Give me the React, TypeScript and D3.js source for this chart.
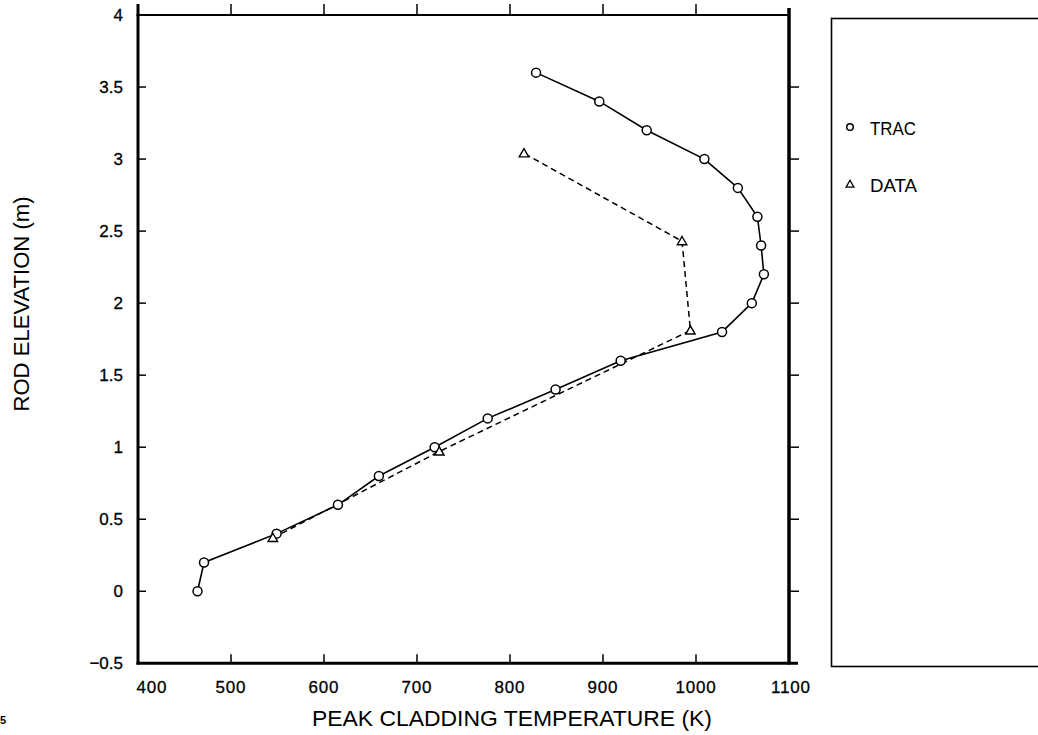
import React from "react";
import * as d3 from "d3";

const tracTemp = [464, 471, 549, 615, 659, 719, 776, 849, 919, 1028, 1060, 1073, 1070, 1066, 1045, 1009, 947, 896, 828];
const tracElev = [0, 0.2, 0.4, 0.6, 0.8, 1.0, 1.2, 1.4, 1.6, 1.8, 2.0, 2.2, 2.4, 2.6, 2.8, 3.0, 3.2, 3.4, 3.6];
const dataTemp = [545, 724, 994, 985, 815];
const dataElev = [0.37, 0.97, 1.81, 2.43, 3.04];
const xTicks = [400, 500, 600, 700, 800, 900, 1000, 1100];
const yTicks = [-0.5, 0, 0.5, 1, 1.5, 2, 2.5, 3, 3.5, 4];
const legendItems = ["TRAC", "DATA"];

const W = 1038, H = 735;
const x = d3.scaleLinear().domain([400, 1100]).range([138, 789]);
const y = d3.scaleLinear().domain([-0.5, 4]).range([663.3, 15]);
const fontFamily = "'Liberation Sans', Arial, Helvetica, sans-serif";

function triPath(cx: number, cy: number, s = 5.5) {
  const sym = d3.symbol().type(d3.symbolTriangle).size(s * s * 1.3);
  return { d: sym() as string, transform: `translate(${cx},${cy + 0.8})` };
}

export default function App() {
  const lineGen = d3.line<[number, number]>().x(d => x(d[0])).y(d => y(d[1]));
  const trac: [number, number][] = tracTemp.map((t, i) => [t, tracElev[i]]);
  const data: [number, number][] = dataTemp.map((t, i) => [t, dataElev[i]]);
  const fmt = (v: number) => (v < 0 ? "\u22120.5" : String(v));
  return (
    <svg width={W} height={H} style={{ position: "absolute", left: 0, top: 0, background: "#fff" }} fontFamily={fontFamily}>
      <rect x={0} y={0} width={W} height={H} fill="#fff" />
      {/* axes frame */}
      <line x1={x(400)} x2={x(400)} y1={4} y2={664.5} stroke="#000" strokeWidth={3} />
      <line x1={136.5} x2={798} y1={y(-0.5)} y2={y(-0.5)} stroke="#000" strokeWidth={3} />
      <line x1={x(1100)} x2={x(1100)} y1={8} y2={664.5} stroke="#000" strokeWidth={3.5} />
      <line x1={136.5} x2={790} y1={y(4)} y2={y(4)} stroke="#000" strokeWidth={2} />
      {/* ticks */}
      {xTicks.slice(1, -1).map(t => (
        <g key={"xt" + t}>
          <line x1={x(t)} x2={x(t)} y1={y(4)} y2={y(4) - 11} stroke="#000" strokeWidth={1.5} />
          <line x1={x(t)} x2={x(t)} y1={y(-0.5)} y2={y(-0.5) - 9} stroke="#000" strokeWidth={1.5} />
        </g>
      ))}
      {yTicks.slice(1, -1).map(t => (
        <g key={"yt" + t}>
          <line x1={x(400)} x2={x(400) + 8} y1={y(t)} y2={y(t)} stroke="#000" strokeWidth={1.5} />
          <line x1={x(1100)} x2={x(1100) + 10} y1={y(t)} y2={y(t)} stroke="#000" strokeWidth={1.5} />
        </g>
      ))}
      {/* tick labels */}
      {xTicks.map(t => (
        <text key={"xl" + t} x={x(t) + (t === 400 ? 14 : t === 1100 ? 2 : 0)} y={693} fontSize={17} letterSpacing={0.8} textAnchor="middle" fill="#000" stroke="#000" strokeWidth={0.3}>{t}</text>
      ))}
      {yTicks.map(t => (
        <text key={"yl" + t} x={123} y={y(t) + 6} fontSize={17} textAnchor="end" fill="#000" stroke="#000" strokeWidth={0.3}>{fmt(t)}</text>
      ))}
      {/* axis titles */}
      <text x={512} y={726} fontSize={21.5} textAnchor="middle" textLength={400} lengthAdjust="spacingAndGlyphs" fill="#000">PEAK CLADDING TEMPERATURE (K)</text>
      <text transform="translate(29,304) rotate(-90)" fontSize={21.5} textAnchor="middle" textLength={215} lengthAdjust="spacingAndGlyphs" fill="#000">ROD ELEVATION (m)</text>
      {/* series */}
      <path d={lineGen(data) as string} fill="none" stroke="#000" strokeWidth={1.5} strokeDasharray="6,4" />
      <path d={lineGen(trac) as string} fill="none" stroke="#000" strokeWidth={1.6} />
      {trac.map((d, i) => (
        <circle key={"c" + i} cx={x(d[0])} cy={y(d[1])} r={4.5} fill="#fff" stroke="#000" strokeWidth={1.5} />
      ))}
      {data.map((d, i) => {
        const p = triPath(x(d[0]), y(d[1]));
        return <path key={"t" + i} d={p.d} transform={p.transform} fill="#fff" stroke="#000" strokeWidth={1.4} />;
      })}
      {/* legend */}
      <rect x={831.5} y={18.5} width={260} height={648} fill="none" stroke="#000" strokeWidth={1.6} />
      <circle cx={850} cy={127} r={3.3} fill="#fff" stroke="#000" strokeWidth={1.5} />
      <text x={870} y={135} fontSize={18} textLength={46} lengthAdjust="spacingAndGlyphs" fill="#000">{legendItems[0]}</text>
      {(() => {
        const p = triPath(850, 184, 4.5);
        return <path d={p.d} transform={p.transform} fill="#fff" stroke="#000" strokeWidth={1.3} />;
      })()}
      <text x={870} y={192} fontSize={18} textLength={47} lengthAdjust="spacingAndGlyphs" fill="#000">{legendItems[1]}</text>
      <text x={0} y={724} fontSize={11} fontWeight="bold" fill="#000">5</text>
    </svg>
  );
}
